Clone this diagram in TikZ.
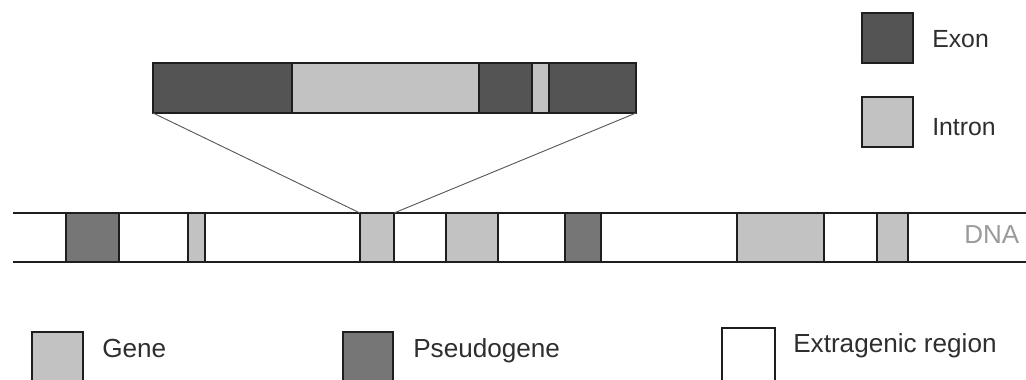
\documentclass[tikz,border=0pt]{standalone}
\usepackage{fontspec}
\setmainfont{Liberation Sans}
\definecolor{exoncol}{HTML}{545454}
\definecolor{introncol}{HTML}{C2C2C2}
\definecolor{pseudocol}{HTML}{767676}
\definecolor{edgecol}{HTML}{1E1E1E}
\definecolor{txtcol}{HTML}{2E2E2E}
\definecolor{dnatxt}{HTML}{9A9A9A}
\begin{document}
\begin{tikzpicture}[x=0.75pt,y=-0.75pt,
  seg/.style={draw=edgecol, line width=1.1pt, inner sep=0pt, outer sep=0pt, anchor=north west},
  lbl/.style={inner sep=0pt, anchor=base west, text=txtcol, font=\fontsize{18.6pt}{22pt}\selectfont},
  blbl/.style={lbl, font=\fontsize{19.6pt}{23pt}\selectfont},
  zoomline/.style={draw=black!65, line width=0.7pt},
  dnaline/.style={draw=edgecol, line width=1.1pt}]
\useasboundingbox (0,0) rectangle (1026,379);
\clip (0,0) rectangle (1026,379);
% DNA strand
\coordinate (dl) at (13,213);
\coordinate (dr) at (1030,213);
\coordinate (dbl) at (13,262);
\coordinate (dbr) at (1030,262);
\draw[dnaline] (dl) -- (dr);
\draw[dnaline] (dbl) -- (dbr);
% DNA boxes
\node[seg, fill=pseudocol, minimum width=53*0.75pt, minimum height=49*0.75pt] (p1) at (66,213) {};
\node[seg, fill=introncol, minimum width=17*0.75pt, minimum height=49*0.75pt] (g1) at (188,213) {};
\node[seg, fill=introncol, minimum width=34*0.75pt, minimum height=49*0.75pt] (g2) at (360,213) {};
\node[seg, fill=introncol, minimum width=52*0.75pt, minimum height=49*0.75pt] (g3) at (446,213) {};
\node[seg, fill=pseudocol, minimum width=36*0.75pt, minimum height=49*0.75pt] (p2) at (565,213) {};
\node[seg, fill=introncol, minimum width=87*0.75pt, minimum height=49*0.75pt] (g4) at (737,213) {};
\node[seg, fill=introncol, minimum width=31*0.75pt, minimum height=49*0.75pt] (g5) at (877,213) {};
\node[inner sep=0pt, anchor=base west, text=dnatxt, font=\fontsize{19.5pt}{22pt}\selectfont] (dna) at (964,243) {DNA};
% zoomed gene
\node[seg, fill=exoncol, minimum width=139*0.75pt, minimum height=50*0.75pt] (e1) at (153,63) {};
\node[seg, fill=introncol, minimum width=187*0.75pt, minimum height=50*0.75pt] (i1) at (292,63) {};
\node[seg, fill=exoncol, minimum width=53*0.75pt, minimum height=50*0.75pt] (e2) at (479,63) {};
\node[seg, fill=introncol, minimum width=17*0.75pt, minimum height=50*0.75pt] (i2) at (532,63) {};
\node[seg, fill=exoncol, minimum width=87*0.75pt, minimum height=50*0.75pt] (e3) at (549,63) {};
\draw[zoomline] (e1.south west) -- (g2.north west);
\draw[zoomline] (e3.south east) -- (g2.north east);
% legend top right
\node[seg, fill=exoncol, minimum width=51*0.75pt, minimum height=50*0.75pt] (lex) at (862,13) {};
\node[lbl] (tex) at (932,47) {Exon};
\node[seg, fill=introncol, minimum width=51*0.75pt, minimum height=50*0.75pt] (lin) at (862,97) {};
\node[lbl] (tin) at (932,135) {Intron};
% legend bottom
\node[seg, fill=introncol, minimum width=51*0.75pt, minimum height=52*0.75pt] (lgene) at (32,332) {};
\node[blbl] (tgene) at (102,357) {Gene};
\node[seg, fill=pseudocol, minimum width=50*0.75pt, minimum height=52*0.75pt] (lpseudo) at (343,332) {};
\node[blbl] (tpseudo) at (413,357) {Pseudogene};
\node[seg, fill=white, minimum width=53*0.75pt, minimum height=56*0.75pt] (lextra) at (722,328) {};
\node[blbl] (textra) at (793,352) {Extragenic region};
\end{tikzpicture}
\end{document}
